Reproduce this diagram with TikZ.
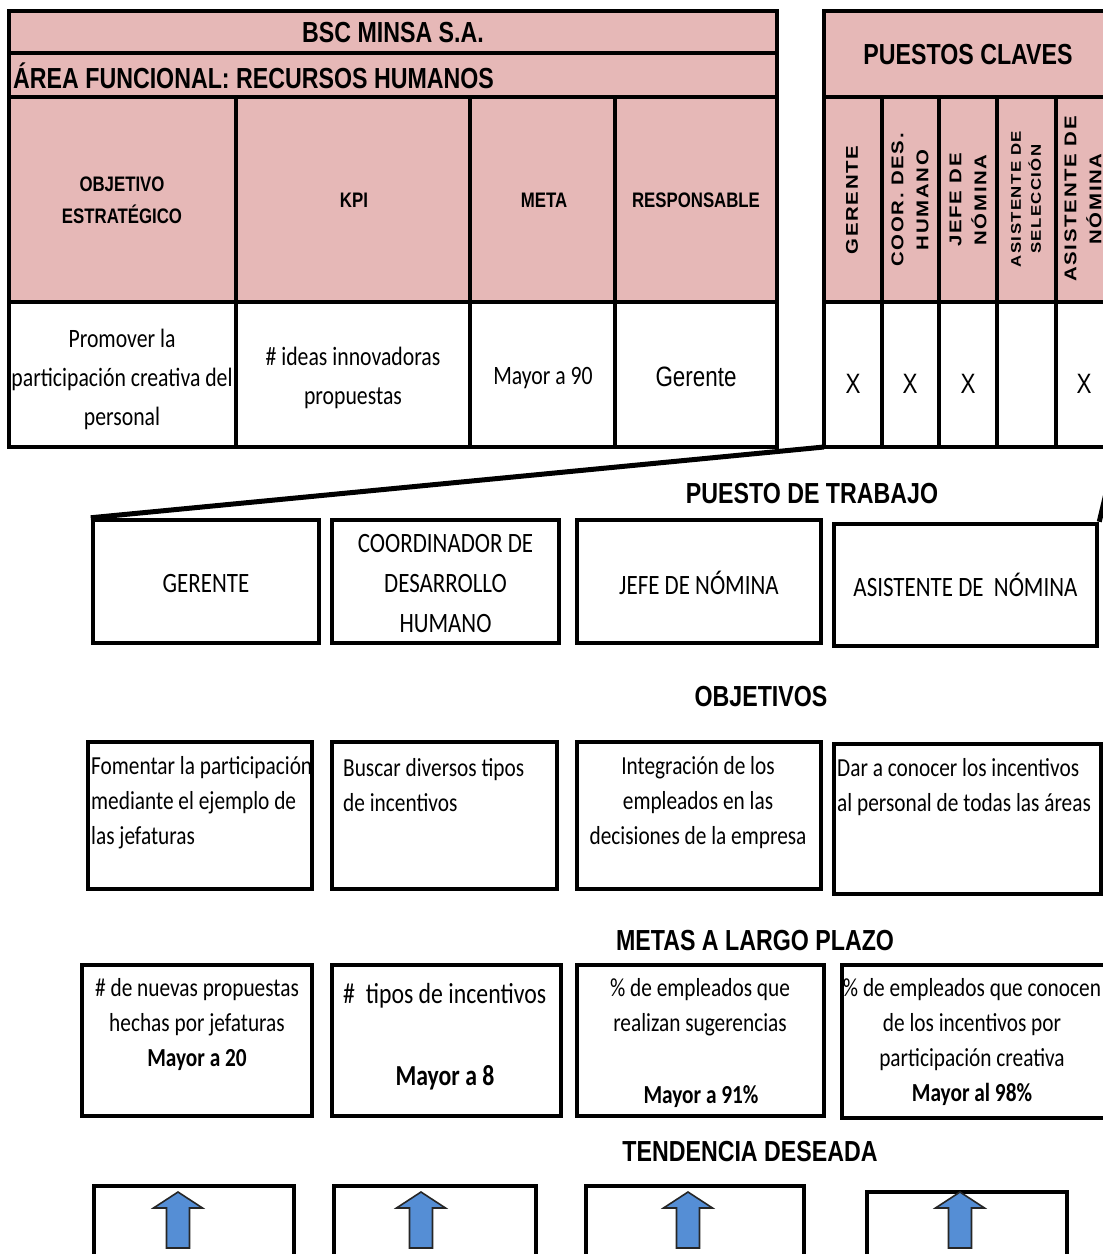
\documentclass[tikz,border=0pt]{standalone}
\usepackage{fontspec}
\setmainfont{Carlito}[FakeStretch=0.82]
\newfontfamily\hdfont{Liberation Sans}[FakeStretch=0.8]
\newfontfamily\rotfont{Liberation Sans}[FakeStretch=1.2,LetterSpace=10]
\definecolor{hdpink}{HTML}{E6B8B7}
\definecolor{arrowblue}{HTML}{558ED5}

% framed box given by its corners: name, x1, y1, x2, y2
\newcommand\frbox[5]{%
  \node[frame, minimum width={#4-#2}, minimum height={#5-#3}] (#1) at ({(#2+#4)/2},{(#3+#5)/2}) {};}
% upward block arrow centred at x = #1 inside box #2
\newcommand\uparrowat[2]{%
  \draw[uparr] (#1,1192) -- (#1+24.5,1208) -- (#1+11.5,1208) -- (#1+11.5,1248)
    -- (#1-11.5,1248) -- (#1-11.5,1208) -- (#1-24.5,1208) -- cycle;}

\begin{document}
\begin{tikzpicture}[x=1pt,y=-1pt,
  rule/.style={line width=4pt},
  frame/.style={draw, line width=4.5pt, inner sep=0pt, fill=white},
  conn/.style={line width=5pt},
  title/.style={font=\hdfont\bfseries\fontsize{29}{30}\selectfont, inner sep=0pt},
  hcell/.style={font=\hdfont\bfseries\fontsize{21}{32}\selectfont, align=center, inner sep=0pt},
  cell/.style={font=\fontsize{26.5}{39}\selectfont, align=center, inner sep=0pt},
  acell/.style={font=\hdfont\fontsize{28}{30}\selectfont, inner sep=0pt},
  rot/.style={rotate=90, font=\rotfont\bfseries\fontsize{17}{25}\selectfont, align=center, inner sep=0pt},
  rots/.style={rotate=90, font=\rotfont\bfseries\fontsize{14}{20}\selectfont, align=center, inner sep=0pt},
  btxt/.style={font=\fontsize{26}{35}\selectfont, inner sep=0pt},
  jtxt/.style={font=\fontsize{28}{40}\selectfont, align=center, inner sep=0pt},
  uparr/.style={fill=arrowblue, draw=black!85, line width=1.6pt, line join=miter},
]
\useasboundingbox (0,0) rectangle (1103,1254);
\clip (0,0) rectangle (1103,1254);

% ---------- BSC table ----------
\fill[hdpink] (9,11) rectangle (777,302);
\draw[rule] (9,11) rectangle (777,447);
\draw[rule] (9,53) -- (777,53);
\draw[rule] (9,97) -- (777,97);
\draw[rule] (9,302) -- (777,302);
\foreach \x in {236,470,615} \draw[rule] (\x,97) -- (\x,447);

\node[title] (bsc) at (393,33) {BSC MINSA S.A.};
\node[title, anchor=west] (area) at (13,76) {ÁREA FUNCIONAL: RECURSOS HUMANOS};
\node[hcell] (hobj) at (122,200) {OBJETIVO\\ESTRATÉGICO};
\node[hcell] (hkpi) at (354,200) {KPI};
\node[hcell] (hmeta) at (544,200) {META};
\node[hcell] (hresp) at (696,200) {RESPONSABLE};
\node[cell] (cobj) at (122,379) {Promover la\\participación creativa del\\personal};
\node[cell] (ckpi) at (353,378) {\# ideas innovadoras\\propuestas};
\node[cell] (cmeta) at (543,378) {Mayor a 90};
\node[acell] (cresp) at (696,377) {Gerente};

% ---------- key positions table ----------
\coordinate (ksw) at (824,447);
\coordinate (kse) at (1117,447);
\fill[hdpink] (824,11) rectangle (1117,302);
\draw[rule] (824,11) rectangle (1117,447);
\draw[rule] (824,97) -- (1117,97);
\draw[rule] (824,302) -- (1117,302);
\foreach \x in {882,939,997,1056} \draw[rule] (\x,97) -- (\x,447);

\node[title] (pc) at (968,55) {PUESTOS CLAVES};
\node[rot] (kg) at (852,200) {GERENTE};
\node[rot] (kc) at (910,200) {COOR. DES.\\HUMANO};
\node[rot] (kj) at (968,200) {JEFE DE\\NÓMINA};
\node[rots] (ks) at (1026,199) {ASISTENTE DE\\SELECCIÓN};
\node[rot] (kn) at (1083,199) {ASISTENTE DE\\NÓMINA};
\foreach \x/\n in {853/xa,910/xb,968/xc,1084/xd}
  \node[acell] (\n) at (\x,384) {X};

% ---------- job positions ----------
\node[title] (tpuesto) at (812,494) {PUESTO DE TRABAJO};
\frbox{pg}{93}{520}{319}{643}
\frbox{pc}{332}{520}{559}{643}
\frbox{pj}{577}{520}{821}{643}
\frbox{pa}{834}{524}{1097}{646}
\node[jtxt] (tg) at ([yshift=-2pt]pg) {GERENTE};
\node[jtxt] (tc) at ([yshift=-2pt]pc) {COORDINADOR DE\\DESARROLLO\\HUMANO};
\node[jtxt] (tj) at ([yshift=-1pt]pj) {JEFE DE NÓMINA};
\node[jtxt] (ta) at (pa) {ASISTENTE DE\ \ NÓMINA};
\draw[conn] (ksw) -- (pg.north west);
\draw[conn] (kse) -- (pa.north east);

% ---------- objectives ----------
\node[title] (tobj) at (761,697) {OBJETIVOS};
\frbox{oa}{88}{742}{312}{889}
\frbox{ob}{332}{742}{557}{889}
\frbox{oc}{577}{742}{821}{889}
\frbox{od}{834}{744}{1101}{894}
\node[btxt, align=left, anchor=north west] (toa) at (91,756) {Fomentar la participación\\mediante el ejemplo de\\las jefaturas};
\node[btxt, align=left, anchor=north west] (tob) at (343,758) {Buscar diversos tipos\\de incentivos};
\node[btxt, align=center, anchor=north] (toc) at (698,756) {Integración de los\\empleados en las\\decisiones de la empresa};
\node[btxt, align=left, anchor=north west] (tod) at (837,758) {Dar a conocer los incentivos\\al personal de todas las áreas};

% ---------- long term goals ----------
\node[title] (tmetas) at (755,941) {METAS A LARGO PLAZO};
\frbox{ma}{82}{965}{312}{1116}
\frbox{mb}{332}{965}{561}{1116}
\frbox{mc}{577}{965}{824}{1116}
\frbox{md}{842}{965}{1107}{1118}
\node[btxt, align=center, anchor=north] (tma) at (197,978) {\# de nuevas propuestas\\hechas por jefaturas\\\textbf{Mayor a 20}};
\node[font=\fontsize{29}{35}\selectfont, inner sep=0pt, anchor=west] (tmb1) at (343,996) {\#\ \ tipos de incentivos};
\node[font=\bfseries\fontsize{29}{35}\selectfont, inner sep=0pt] (tmb2) at (445,1078) {Mayor a 8};
\node[btxt, align=center, anchor=north] (tmc1) at (700,978) {\% de empleados que\\realizan sugerencias};
\node[font=\bfseries\fontsize{26}{35}\selectfont, inner sep=0pt] (tmc2) at (701,1097) {Mayor a 91\%};
\node[btxt, align=center, anchor=north] (tmd) at (972,978) {\% de empleados que conocen\\de los incentivos por\\participación creativa\\\textbf{Mayor al 98\%}};

% ---------- desired trend ----------
\node[title] (ttend) at (750,1152) {TENDENCIA DESEADA};
\frbox{da}{94}{1186}{294}{1280}
\frbox{db}{334}{1186}{536}{1280}
\frbox{dc}{586}{1186}{804}{1280}
\frbox{dd}{867}{1192}{1067}{1280}
\uparrowat{178}{da}
\uparrowat{421}{db}
\uparrowat{688}{dc}
\uparrowat{960}{dd}
\end{tikzpicture}
\end{document}
